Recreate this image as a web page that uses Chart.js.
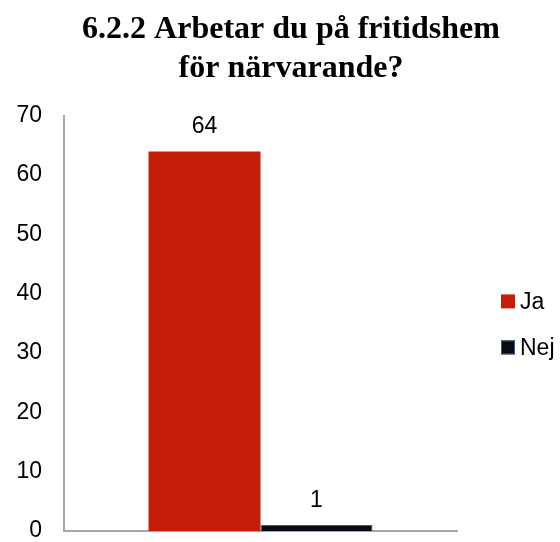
<!DOCTYPE html>
<html lang="sv">
<head>
    <meta charset="UTF-8">
    <script src="https://cdn.jsdelivr.net/npm/chart.js"></script>
    <title>6.2.2</title>
    <style>
        body { margin: 0; background: #fff; }
    </style>
</head>
<body>
    <canvas id="myChart" width="560" height="542"></canvas>
    <script>
        const categories = [''];
        const seriesNames = ['Ja', 'Nej'];
        const jaValues = [64];
        const nejValues = [1];
        const yTicks = [0, 10, 20, 30, 40, 50, 60, 70];

        const labelFont = { family: '"Liberation Sans", sans-serif', size: 23 };
        const fontStr = '23px "Liberation Sans", sans-serif';

        // value above each bar
        const valueLabels = {
            id: 'valueLabels',
            afterDatasetsDraw(chart) {
                const ctx = chart.ctx;
                ctx.save();
                ctx.font = fontStr;
                ctx.fillStyle = '#000';
                ctx.textAlign = 'center';
                ctx.textBaseline = 'alphabetic';
                chart.data.datasets.forEach((ds, i) => {
                    chart.getDatasetMeta(i).data.forEach((bar, j) => {
                        ctx.fillText(ds.data[j], bar.x, bar.y - 18);
                    });
                });
                ctx.restore();
            }
        };

        // legend to the right, drawn from the datasets (built-in one can't be placed like this)
        const sideLegend = {
            id: 'sideLegend',
            afterDraw(chart) {
                const ctx = chart.ctx;
                const area = chart.chartArea;
                const mid = (area.top + area.bottom) / 2;
                const x = area.right + 44;
                ctx.save();
                ctx.font = fontStr;
                ctx.textBaseline = 'middle';
                chart.data.datasets.forEach((ds, i) => {
                    const cy = mid - 22 + i * 46;
                    ctx.fillStyle = ds.backgroundColor;
                    ctx.fillRect(x, cy - 7, 14, 14);
                    if (ds.borderWidth) {
                        ctx.strokeStyle = ds.borderColor;
                        ctx.lineWidth = 1;
                        ctx.strokeRect(x + 0.5, cy - 6.5, 13, 13);
                    }
                    ctx.fillStyle = '#000';
                    ctx.fillText(ds.label, x + 19, cy + 1);
                });
                ctx.restore();
            }
        };

        new Chart(document.getElementById('myChart'), {
            type: 'bar',
            data: {
                labels: categories,
                datasets: [{
                    label: seriesNames[0],
                    data: jaValues,
                    backgroundColor: '#c41e0a',
                    borderWidth: 0
                }, {
                    label: seriesNames[1],
                    data: nejValues,
                    backgroundColor: '#0a0a12',
                    borderColor: '#3a5f8a',
                    borderWidth: 1
                }]
            },
            options: {
                responsive: false,
                animation: false,
                // negative right padding moves the title centre right, like the original
                layout: { padding: { left: 0, right: -22, bottom: 2, top: 0 } },
                datasets: {
                    bar: { categoryPercentage: 0.57, barPercentage: 1 }
                },
                plugins: {
                    title: {
                        display: true,
                        text: ['6.2.2 Arbetar du på fritidshem', 'för närvarande?'],
                        color: '#000',
                        font: { family: '"Liberation Serif", serif', size: 32, weight: 'bold', lineHeight: 1.2 },
                        padding: { top: 11, bottom: 28 }
                    },
                    legend: { display: false },
                    tooltip: { enabled: false }
                },
                scales: {
                    x: {
                        afterFit: (axis) => { axis.height = 9; axis.paddingLeft = 0; axis.paddingRight = 0; },
                        grid: { display: false },
                        border: { color: '#a6a6a6', width: 2 },
                        ticks: { display: false }
                    },
                    y: {
                        min: 0,
                        max: 70,
                        afterBuildTicks: (axis) => { axis.ticks = yTicks.map(v => ({ value: v })); },
                        afterFit: (axis) => { axis.width = 64; axis.paddingTop = 0; axis.paddingBottom = 0; },
                        grid: { display: false, drawTicks: false },
                        border: { color: '#a6a6a6', width: 2 },
                        ticks: {
                            color: '#000',
                            padding: 22,
                            font: labelFont
                        }
                    },
                    // empty axis on the right just to leave room for the legend
                    side: {
                        position: 'right',
                        afterFit: (axis) => { axis.width = 125; axis.paddingTop = 0; axis.paddingBottom = 0; },
                        grid: { display: false, drawTicks: false },
                        border: { display: false },
                        ticks: { display: false }
                    }
                }
            },
            plugins: [valueLabels, sideLegend]
        });
    </script>
</body>
</html>
